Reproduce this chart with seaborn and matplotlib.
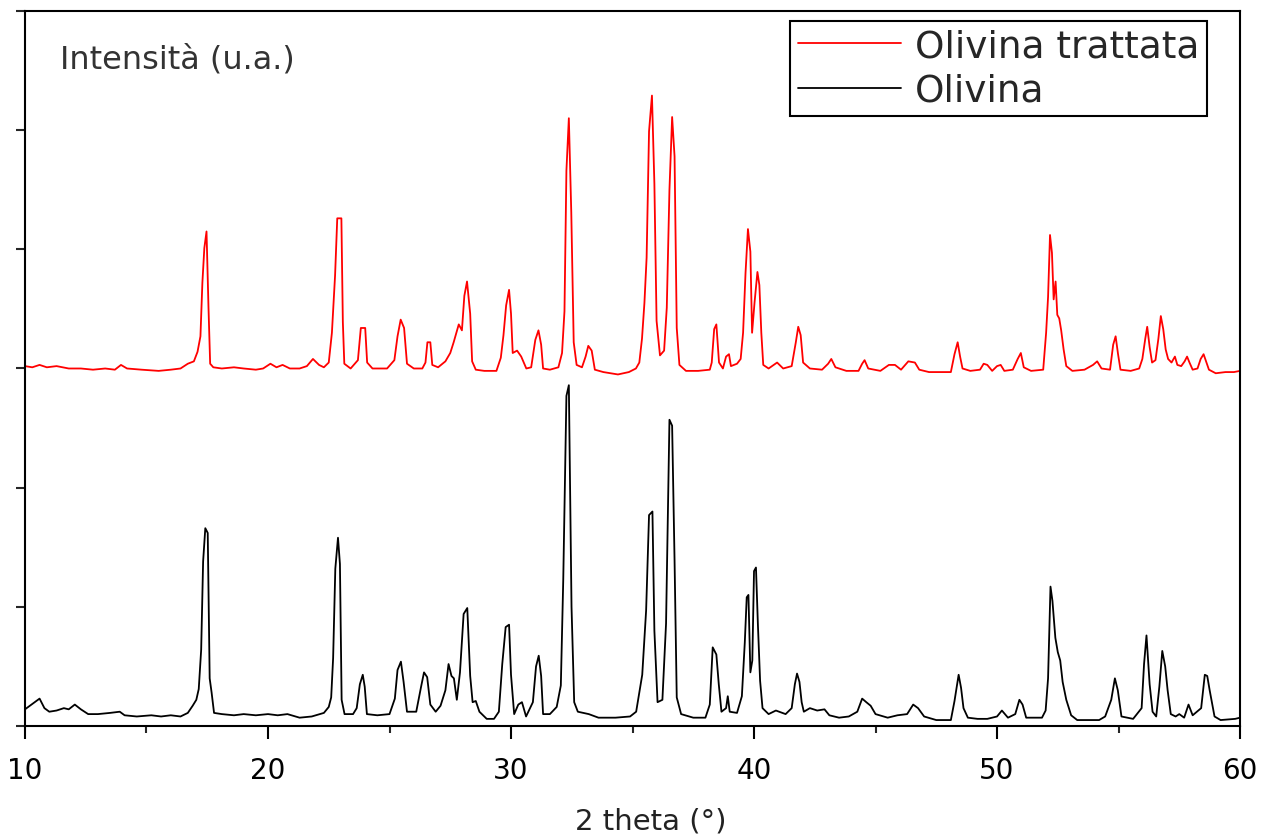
"""
Diffrattogramma XRD: Olivina vs Olivina trattata
"""
import numpy as np
import pandas as pd
import matplotlib
matplotlib.use('Agg')
import matplotlib.pyplot as plt
import seaborn as sns
from matplotlib.ticker import MultipleLocator

theta_olivina = [
    10.0, 10.2, 10.4, 10.6, 10.8, 11.0, 11.3, 11.6, 11.8, 12.05, 12.3, 12.6, 13.0, 13.5, 13.9,
    14.1, 14.6, 15.2, 15.6, 16.0, 16.4, 16.7, 16.9, 17.05, 17.15, 17.25, 17.33, 17.42, 17.52,
    17.6, 17.68, 17.78, 18.1, 18.6, 19.0, 19.5, 20.0, 20.4, 20.8, 21.3, 21.8, 22.3, 22.5, 22.6,
    22.68, 22.77, 22.88, 22.96, 23.03, 23.15, 23.5, 23.65, 23.78, 23.9, 23.98, 24.07, 24.5, 25.0,
    25.22, 25.33, 25.47, 25.58, 25.72, 26.1, 26.3, 26.42, 26.55, 26.68, 26.9, 27.1, 27.3, 27.43,
    27.55, 27.65, 27.77, 27.9, 28.05, 28.2, 28.32, 28.42, 28.55, 28.7, 29.0, 29.3, 29.5, 29.64,
    29.78, 29.92, 30.0, 30.13, 30.3, 30.45, 30.62, 30.9, 31.03, 31.14, 31.24, 31.32, 31.6, 31.88,
    32.05, 32.15, 32.28, 32.38, 32.49, 32.6, 32.75, 33.2, 33.6, 34.3, 34.9, 35.15, 35.4, 35.56,
    35.68, 35.82, 35.9, 36.03, 36.23, 36.38, 36.52, 36.63, 36.73, 36.82, 37.0, 37.5, 38.0, 38.18,
    38.3, 38.45, 38.55, 38.66, 38.85, 38.92, 39.0, 39.3, 39.5, 39.62, 39.7, 39.77, 39.85, 39.93,
    40.0, 40.08, 40.16, 40.25, 40.35, 40.6, 40.9, 41.3, 41.55, 41.68, 41.77, 41.87, 41.96, 42.05,
    42.3, 42.6, 42.9, 43.1, 43.5, 43.9, 44.25, 44.45, 44.62, 44.8, 45.0, 45.5, 45.9, 46.3, 46.55,
    46.75, 47.0, 47.5, 48.1, 48.25, 48.42, 48.52, 48.62, 48.8, 49.2, 49.6, 50.0, 50.2, 50.45,
    50.75, 50.92, 51.05, 51.2, 51.85, 52.0, 52.1, 52.2, 52.28, 52.4, 52.5, 52.6, 52.7, 52.85,
    53.05, 53.3, 54.2, 54.45, 54.7, 54.85, 54.97, 55.12, 55.6, 55.95, 56.05, 56.15, 56.28, 56.4,
    56.55, 56.68, 56.8, 56.92, 57.02, 57.15, 57.35, 57.5, 57.7, 57.88, 58.05, 58.4, 58.55, 58.65,
    58.75, 58.95, 59.2, 59.8, 60.0]
int_olivina = [
    0.14, 0.17, 0.20, 0.23, 0.15, 0.12, 0.13, 0.15, 0.14, 0.18, 0.14, 0.10, 0.10, 0.11, 0.12,
    0.09, 0.08, 0.09, 0.08, 0.09, 0.08, 0.11, 0.17, 0.22, 0.31, 0.64, 1.38, 1.66, 1.62,
    0.40, 0.28, 0.11, 0.10, 0.09, 0.10, 0.09, 0.10, 0.09, 0.10, 0.07, 0.08, 0.11, 0.16, 0.24,
    0.57, 1.32, 1.58, 1.36, 0.22, 0.10, 0.10, 0.15, 0.35, 0.43, 0.33, 0.10, 0.09, 0.10,
    0.23, 0.47, 0.54, 0.37, 0.12, 0.12, 0.33, 0.45, 0.41, 0.18, 0.12, 0.17, 0.30, 0.52,
    0.42, 0.40, 0.22, 0.45, 0.94, 0.99, 0.42, 0.20, 0.21, 0.12, 0.06, 0.06, 0.12, 0.52,
    0.83, 0.85, 0.43, 0.10, 0.18, 0.20, 0.08, 0.20, 0.50, 0.59, 0.42, 0.10, 0.10, 0.16,
    0.34, 1.23, 2.77, 2.86, 1.00, 0.20, 0.12, 0.10, 0.07, 0.07, 0.08, 0.12, 0.43, 0.97,
    1.77, 1.80, 0.80, 0.20, 0.22, 0.86, 2.57, 2.52, 1.39, 0.24, 0.10, 0.07, 0.07, 0.18,
    0.66, 0.60, 0.35, 0.12, 0.15, 0.25, 0.12, 0.11, 0.25, 0.70, 1.08, 1.10, 0.45, 0.55,
    1.30, 1.33, 0.85, 0.38, 0.15, 0.10, 0.13, 0.10, 0.15, 0.35, 0.44, 0.37, 0.20, 0.12,
    0.15, 0.13, 0.14, 0.09, 0.07, 0.08, 0.12, 0.23, 0.20, 0.17, 0.10, 0.07, 0.09, 0.10, 0.18,
    0.15, 0.08, 0.05, 0.05, 0.21, 0.43, 0.32, 0.15, 0.07, 0.06, 0.06, 0.08, 0.13, 0.07,
    0.10, 0.22, 0.18, 0.07, 0.07, 0.13, 0.40, 1.17, 1.05, 0.74, 0.62, 0.55, 0.37, 0.22,
    0.09, 0.05, 0.05, 0.08, 0.22, 0.40, 0.30, 0.08, 0.06, 0.15, 0.52, 0.76, 0.35, 0.12,
    0.08, 0.33, 0.63, 0.50, 0.30, 0.10, 0.08, 0.10, 0.07, 0.18, 0.09, 0.15, 0.43, 0.42,
    0.30, 0.08, 0.05, 0.06, 0.07]

theta_trattata = [
    10.0, 10.3, 10.6, 10.9, 11.3, 11.8, 12.3, 12.8, 13.3, 13.7, 13.95, 14.2, 14.8, 15.5, 16.0,
    16.4, 16.7, 16.95, 17.1, 17.22, 17.3, 17.38, 17.47, 17.55, 17.62, 17.75, 18.1, 18.6, 19.0,
    19.5, 19.8, 20.1, 20.35, 20.6, 20.9, 21.3, 21.6, 21.85, 22.1, 22.3, 22.5, 22.63, 22.76,
    22.85, 23.02, 23.08, 23.14, 23.4, 23.7, 23.82, 24.0, 24.08, 24.3, 24.9, 25.2, 25.33, 25.46,
    25.6, 25.72, 26.0, 26.35, 26.48, 26.56, 26.68, 26.76, 27.0, 27.3, 27.5, 27.64, 27.85, 27.98,
    28.08, 28.19, 28.32, 28.4, 28.55, 28.9, 29.4, 29.58, 29.69, 29.8, 29.92, 30.0, 30.07, 30.25,
    30.42, 30.63, 30.83, 31.0, 31.13, 31.24, 31.32, 31.6, 31.95, 32.1, 32.2, 32.28, 32.38, 32.48,
    32.58, 32.7, 32.92, 33.07, 33.18, 33.32, 33.45, 33.8, 34.4, 34.85, 35.14, 35.28, 35.39, 35.49,
    35.58, 35.68, 35.8, 35.9, 35.99, 36.13, 36.3, 36.41, 36.52, 36.63, 36.73, 36.82, 36.93, 37.2,
    37.7, 38.18, 38.26, 38.36, 38.45, 38.56, 38.72, 38.85, 38.97, 39.05, 39.3, 39.45, 39.55,
    39.65, 39.75, 39.85, 39.92, 40.02, 40.14, 40.22, 40.3, 40.38, 40.6, 40.95, 41.2, 41.55,
    41.72, 41.82, 41.92, 42.02, 42.3, 42.8, 43.05, 43.18, 43.35, 43.8, 44.3, 44.45, 44.55, 44.7,
    45.2, 45.55, 45.8, 46.05, 46.35, 46.62, 46.8, 47.2, 48.1, 48.25, 48.38, 48.48, 48.58, 48.9,
    49.3, 49.45, 49.6, 49.8, 50.0, 50.15, 50.3, 50.65, 50.85, 50.98, 51.1, 51.4, 51.9, 52.02,
    52.1, 52.18, 52.26, 52.33, 52.41, 52.48, 52.56, 52.64, 52.74, 52.85, 53.1, 53.6, 53.95,
    54.12, 54.3, 54.65, 54.78, 54.88, 54.98, 55.08, 55.5, 55.85, 55.98, 56.1, 56.18, 56.28,
    56.38, 56.52, 56.64, 56.74, 56.84, 56.94, 57.04, 57.18, 57.32, 57.42, 57.58, 57.72, 57.82,
    57.92, 58.05, 58.25, 58.38, 58.5, 58.6, 58.72, 59.0, 59.4, 59.75, 60.0]
int_trattata = [
    3.02, 3.01, 3.03, 3.01, 3.02, 3.00, 3.00, 2.99, 3.00, 2.99, 3.03, 3.00, 2.99, 2.98, 2.99,
    3.00, 3.04, 3.06, 3.14, 3.27, 3.72, 4.01, 4.15, 3.52, 3.04, 3.01, 3.00, 3.01, 3.00,
    2.99, 3.00, 3.04, 3.01, 3.03, 3.00, 3.00, 3.02, 3.08, 3.03, 3.01, 3.05, 3.30, 3.78,
    4.26, 4.26, 3.39, 3.04, 3.00, 3.07, 3.34, 3.34, 3.05, 3.00, 3.00, 3.07, 3.27, 3.41,
    3.34, 3.04, 3.00, 3.00, 3.05, 3.22, 3.22, 3.03, 3.01, 3.06, 3.13, 3.22, 3.37, 3.32,
    3.61, 3.73, 3.46, 3.06, 2.99, 2.98, 2.98, 3.09, 3.28, 3.53, 3.66, 3.46, 3.13, 3.15,
    3.10, 3.00, 3.01, 3.24, 3.32, 3.20, 3.00, 2.99, 3.01, 3.13, 3.48, 4.66, 5.10, 4.31,
    3.22, 3.03, 3.01, 3.10, 3.19, 3.15, 2.99, 2.97, 2.95, 2.97, 3.00, 3.05, 3.25, 3.55,
    3.93, 4.99, 5.29, 4.55, 3.40, 3.11, 3.15, 3.51, 4.50, 5.11, 4.78, 3.34, 3.03, 2.98,
    2.98, 2.99, 3.05, 3.33, 3.37, 3.05, 3.00, 3.10, 3.12, 3.02, 3.04, 3.08, 3.30,
    3.80, 4.17, 3.98, 3.30, 3.55, 3.81, 3.70, 3.30, 3.03, 3.00, 3.05, 3.00, 3.02,
    3.22, 3.35, 3.28, 3.05, 3.00, 2.99, 3.04, 3.08, 3.01, 2.98, 2.98, 3.04, 3.07, 3.00,
    2.98, 3.03, 3.03, 2.99, 3.06, 3.05, 2.99, 2.97, 2.97, 3.12, 3.22, 3.10, 3.00, 2.98,
    2.99, 3.04, 3.03, 2.98, 3.02, 3.03, 2.98, 2.99, 3.08, 3.13, 3.01, 2.98, 2.99, 3.30,
    3.60, 4.12, 3.97, 3.58, 3.73, 3.45, 3.42, 3.32, 3.16, 3.02, 2.98, 2.99, 3.03,
    3.06, 3.00, 2.99, 3.20, 3.27, 3.12, 2.99, 2.98, 3.00, 3.08, 3.25, 3.35, 3.18,
    3.05, 3.07, 3.25, 3.44, 3.33, 3.16, 3.08, 3.05, 3.10, 3.03, 3.02, 3.06, 3.10,
    3.05, 2.99, 3.00, 3.08, 3.12, 3.06, 2.99, 2.96, 2.97, 2.97, 2.98]

x_ticks = [10, 20, 30, 40, 50, 60]

# ── Plot ─────────────────────────────────────────────────────
sns.set_style('ticks')
plt.rcParams['font.family'] = ['DejaVu Sans']

fig, ax = plt.subplots(figsize=(12.62, 8.37), dpi=100)
fig.subplots_adjust(left=0.0198, right=0.9826, top=0.9857, bottom=0.1314)

sns.lineplot(x=theta_trattata, y=int_trattata, color='#ff0000', linewidth=1.3,
             label='Olivina trattata', estimator=None, sort=False, ax=ax)
sns.lineplot(x=theta_olivina, y=int_olivina, color='black', linewidth=1.3,
             label='Olivina', estimator=None, sort=False, ax=ax)

ax.set_xlim(10, 60)
ax.set_ylim(0, 6)
ax.set_xticks(x_ticks)
ax.xaxis.set_minor_locator(MultipleLocator(5))
ax.set_yticks(range(7))
ax.set_yticklabels([])
ax.tick_params(axis='x', which='major', direction='out', length=9.5, width=1.5,
               labelsize=20, pad=12, colors='black')
ax.tick_params(axis='x', which='minor', direction='out', length=5, width=1.5)
ax.tick_params(axis='y', which='major', direction='out', length=6.5, width=1.5)

for sp in ax.spines.values():
    sp.set_color('black')
    sp.set_linewidth(1.5)

ax.set_xlabel('2 theta (°)', fontsize=21, color='#222222')
ax.xaxis.set_label_coords(0.515, -0.113)
ax.set_ylabel('')
ax.text(0.029, 0.933, 'Intensità (u.a.)', transform=ax.transAxes,
        fontsize=23, color='#333333', ha='left', va='center')

leg = ax.legend(loc='upper right', bbox_to_anchor=(0.9728, 0.986), borderaxespad=0,
                fontsize=27, handlelength=2.75, handletextpad=0.38, borderpad=0.2,
                labelspacing=0.22, fancybox=False, framealpha=1, edgecolor='black')
leg.get_frame().set_linewidth(1.5)

plt.savefig('out.png', dpi=100)
